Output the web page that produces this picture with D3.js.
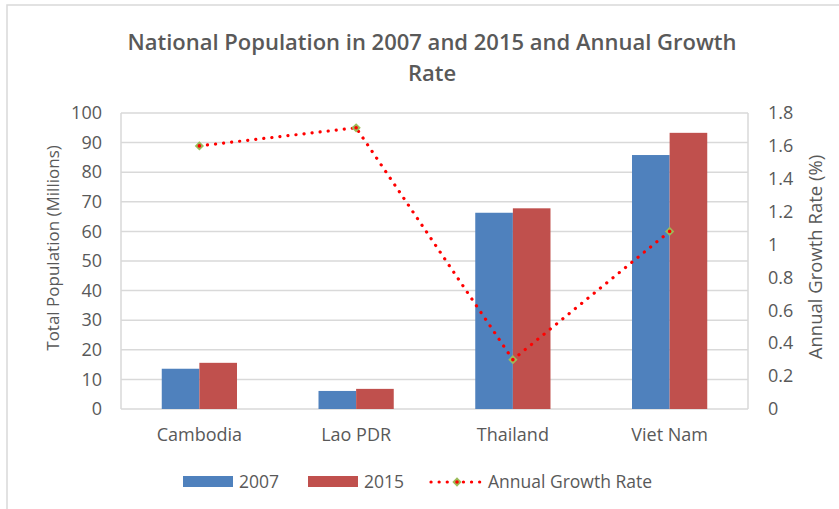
<!DOCTYPE html>
<html><head><meta charset="utf-8">
<script src="https://cdn.jsdelivr.net/npm/d3@7"></script>
<style>body{margin:0;background:#fff}svg{display:block}text{font-family:"Open Sans",sans-serif;fill:#595959}</style>
</head><body><svg id="c" width="839" height="509"></svg>
<script>
const categories = ["Cambodia", "Lao PDR", "Thailand", "Viet Nam"];
const pop2007 = [13.6, 6.1, 66.3, 85.8];
const pop2015 = [15.6, 6.8, 67.8, 93.3];
const growthRate = [1.6, 1.71, 0.3, 1.08];
const leftTicks = [0,10,20,30,40,50,60,70,80,90,100];
const rightTicks = [0,0.2,0.4,0.6,0.8,1,1.2,1.4,1.6,1.8];
const seriesNames = ["2007", "2015", "Annual Growth Rate"];

const svg = d3.select("#c");
const m = {l:121, r:748, t:113, b:409};
svg.append("rect").attr("x",7).attr("y",5).attr("width",840).attr("height",510)
  .attr("fill","#fff").attr("stroke","#d9d9d9").attr("stroke-width",1.5);

const x = d3.scaleBand().domain(categories).range([m.l,m.r]).paddingInner(0.52).paddingOuter(0.26);
const xs = d3.scaleBand().domain([0,1]).range([0,x.bandwidth()]);
const yL = d3.scaleLinear().domain([0,100]).range([m.b,m.t]);
const yR = d3.scaleLinear().domain([0,1.8]).range([m.b,m.t]);

// gridlines
svg.append("g").selectAll("line").data(leftTicks).join("line")
  .attr("x1",m.l).attr("x2",m.r).attr("y1",d=>yL(d)).attr("y2",d=>yL(d))
  .attr("stroke","#d9d9d9").attr("stroke-width",1.5);
svg.append("line").attr("x1",m.l).attr("x2",m.l).attr("y1",m.t).attr("y2",m.b).attr("stroke","#d9d9d9").attr("stroke-width",1.5);
svg.append("line").attr("x1",m.r).attr("x2",m.r).attr("y1",m.t).attr("y2",m.b).attr("stroke","#d9d9d9").attr("stroke-width",1.5);

// bars
const colors = ["#4f81bd","#c0504d"];
[pop2007,pop2015].forEach((vals,si)=>{
  svg.append("g").selectAll("rect").data(categories).join("rect")
    .attr("x",(d)=>x(d)+xs(si)).attr("width",xs.bandwidth())
    .attr("y",(d,i)=>yL(vals[i])).attr("height",(d,i)=>yL(0)-yL(vals[i]))
    .attr("fill",colors[si]);
});

// axes
const axL = svg.append("g").attr("transform",`translate(${m.l},0)`)
  .call(d3.axisLeft(yL).tickValues(leftTicks).tickSize(0).tickPadding(19));
const axR = svg.append("g").attr("transform",`translate(${m.r},0)`)
  .call(d3.axisRight(yR).tickValues(rightTicks).tickSize(0).tickPadding(20).tickFormat(d=>String(+d.toFixed(1))));
const axB = svg.append("g").attr("transform",`translate(0,${m.b})`)
  .call(d3.axisBottom(x).tickSize(0).tickPadding(19));
[axL,axR,axB].forEach(a=>{a.select(".domain").remove();a.selectAll("text").style("font-size","18px").attr("fill","#595959").style("font-family","'Open Sans',sans-serif");});
axB.selectAll("text").style("font-size","18px");

// line
const line = d3.line().x((d,i)=>x(categories[i])+x.bandwidth()/2).y(d=>yR(d));
svg.append("path").datum(growthRate).attr("d",line).attr("fill","none")
  .attr("stroke","#ff0000").attr("stroke-width",3.2).attr("stroke-dasharray","0.1 8").attr("stroke-linecap","round");
const mk = svg.append("g").selectAll("g").data(growthRate).join("g")
  .attr("transform",(d,i)=>`translate(${x(categories[i])+x.bandwidth()/2},${yR(d)})`);
mk.append("path").attr("d",d3.symbol(d3.symbolDiamond2,55)).attr("fill","#9bbb59");
mk.append("circle").attr("r",1.8).attr("fill","#ff0000");

// titles
svg.append("text").attr("x",432).attr("y",50).attr("text-anchor","middle").style("font-size","22px").style("font-weight","600").text("National Population in 2007 and 2015 and Annual Growth");
svg.append("text").attr("x",432).attr("y",81).attr("text-anchor","middle").style("font-size","22px").style("font-weight","600").text("Rate");
svg.append("text").attr("transform","translate(59,248) rotate(-90)").attr("text-anchor","middle").style("font-size","17px").text("Total Population (Millions)");
svg.append("text").attr("transform","translate(822,257) rotate(-90)").attr("text-anchor","middle").style("font-size","18.5px").text("Annual Growth Rate (%)");

// legend
const lg = svg.append("g");
lg.append("rect").attr("x",183).attr("y",476).attr("width",50).attr("height",11).attr("fill",colors[0]);
lg.append("text").attr("x",239).attr("y",488).style("font-size","17.5px").text(seriesNames[0]);
lg.append("rect").attr("x",308).attr("y",476).attr("width",50).attr("height",11).attr("fill",colors[1]);
lg.append("text").attr("x",364).attr("y",488).style("font-size","17.5px").text(seriesNames[1]);
lg.append("line").attr("x1",431).attr("x2",481).attr("y1",482).attr("y2",482).attr("stroke","#ff0000").attr("stroke-width",3.2).attr("stroke-dasharray","0.1 8").attr("stroke-linecap","round");
lg.append("path").attr("transform","translate(457,482)").attr("d",d3.symbol(d3.symbolDiamond2,55)).attr("fill","#9bbb59");
lg.append("circle").attr("cx",457).attr("cy",482).attr("r",1.8).attr("fill","#ff0000");
lg.append("text").attr("x",488).attr("y",488).style("font-size","17.5px").text(seriesNames[2]);
</script></body></html>
